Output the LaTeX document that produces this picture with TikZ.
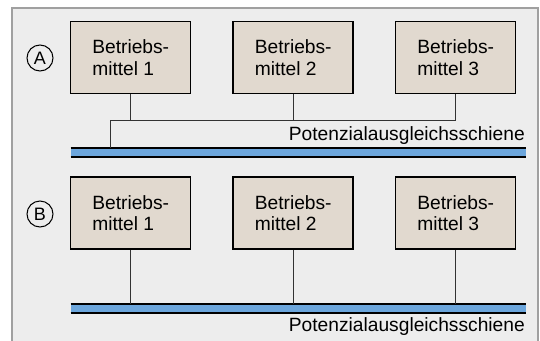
\documentclass[tikz,border=0pt]{standalone}
\usepackage{fontspec}
\setmainfont{Liberation Sans}
\usetikzlibrary{calc}
\definecolor{panelgray}{RGB}{237,237,237}
\definecolor{framegray}{RGB}{160,160,160}
\definecolor{boxfill}{RGB}{225,217,207}
\definecolor{busblue}{RGB}{108,166,220}
\begin{document}
\begin{tikzpicture}
[x=1pt,y=-1pt,
 unit/.style={draw=black,line width=1.5pt,fill=boxfill,minimum width=120pt,minimum height=72pt,inner sep=0pt,align=left,font=\fontsize{19.2}{21.7}\selectfont},
 tag/.style={circle,draw=black,line width=1pt,minimum size=26pt,inner sep=0pt,font=\fontsize{18}{18}\selectfont},
 bar/.style={fill=busblue,minimum width=455pt,minimum height=8.4pt,inner sep=0pt},
 busline/.style={line width=1.6pt},
 wire/.style={line width=1pt,draw=black!80},
 lbl/.style={anchor=base east,inner sep=0pt,font=\fontsize{19.2}{21.7}\selectfont}]

\useasboundingbox (0,0) rectangle (540,340);
\fill[panelgray] (12,8) rectangle (538,345);
\draw[framegray,line width=1.5pt] (12,345) -- (12,8) -- (538,8) -- (538,345);

\node (ca) at (40,58) [tag] {A};
\node (cb) at (40,214) [tag] {B};

\node (a1) at (130.7,57.3) [unit] {Betriebs-\\mittel 1};
\node (a2) at (293.2,57.3) [unit] {Betriebs-\\mittel 2};
\node (a3) at (455.7,57.3) [unit] {Betriebs-\\mittel 3};

\node (b1) at (130.7,213) [unit] {Betriebs-\\mittel 1};
\node (b2) at (293.2,213) [unit] {Betriebs-\\mittel 2};
\node (b3) at (455.7,213) [unit] {Betriebs-\\mittel 3};

\node (barA) at (298.2,152.5) [bar] {};
\node (barB) at (298.2,308.5) [bar] {};
\draw[busline] (barA.north west) -- (barA.north east) (barA.south west) -- (barA.south east);
\draw[busline] (barB.north west) -- (barB.north east) (barB.south west) -- (barB.south east);

\node (la) at (525,140) [lbl] {Potenzialausgleichsschiene};
\node (lb) at (525,331.5) [lbl] {Potenzialausgleichsschiene};

\coordinate (ja) at (110,120.7);
\draw[wire] (a1.south) |- (ja) -- (ja |- barA.north);
\draw[wire] (a2.south) |- (ja);
\draw[wire] (a3.south) |- (ja);

\draw[wire] (b1.south) -- (b1.south |- barB.north);
\draw[wire] (b2.south) -- (b2.south |- barB.north);
\draw[wire] (b3.south) -- (b3.south |- barB.north);
\end{tikzpicture}
\end{document}
